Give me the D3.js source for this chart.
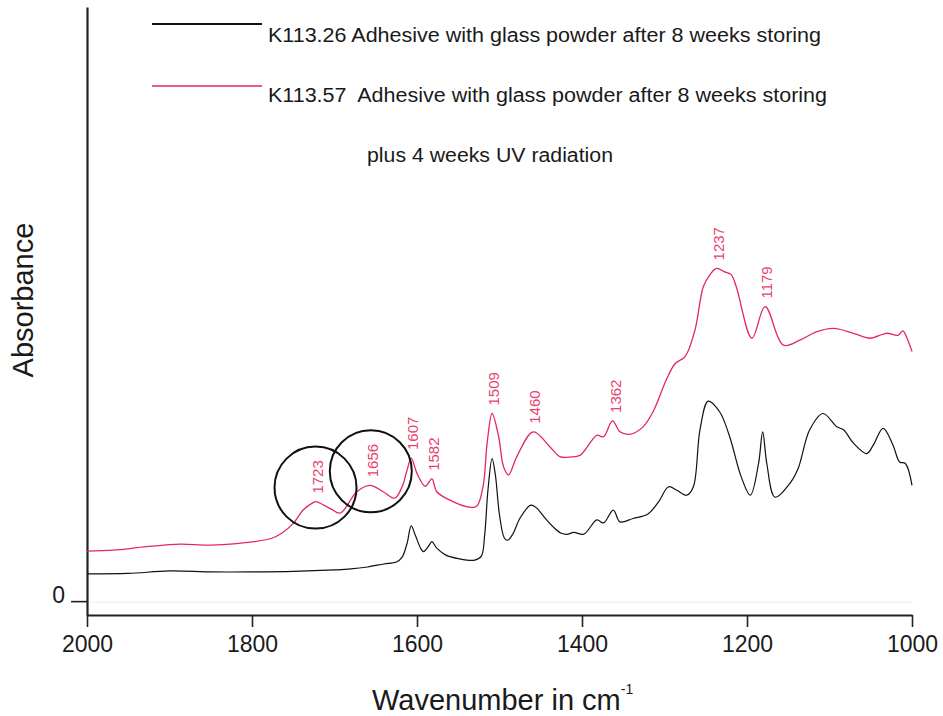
<!DOCTYPE html>
<meta charset="utf-8">
<script src="https://d3js.org/d3.v7.min.js"></script>
<style>
  body { margin: 0; background: #fff; }
  text { font-family: "Liberation Sans", Arial, sans-serif; }
</style>
<div id="chart"></div>
<script>

// --- data (wavenumber in cm-1, absorbance in arbitrary units) ---
var blackWavenumber = [2000, 1950, 1900, 1850, 1800, 1750, 1700, 1680, 1660, 1640, 1625, 1618, 1612, 1607, 1602,
  1595, 1592, 1586, 1582, 1576, 1565, 1550, 1530, 1522, 1518, 1514, 1509, 1505, 1500, 1494, 1490, 1484, 1475,
  1462, 1455, 1445, 1435, 1425, 1418, 1410, 1398, 1382, 1374, 1362, 1354, 1338, 1320, 1307, 1295, 1285, 1273,
  1265, 1257, 1247, 1233, 1221, 1207, 1196, 1186, 1181, 1176, 1166, 1148, 1138, 1124, 1108, 1091, 1083, 1071,
  1055, 1047, 1035, 1023, 1015, 1008, 1000];
var blackAbsorbance = [0.055, 0.056, 0.061, 0.059, 0.059, 0.060, 0.063, 0.065, 0.069, 0.075, 0.079, 0.089, 0.117, 0.152, 0.133,
  0.105, 0.100, 0.111, 0.120, 0.107, 0.093, 0.086, 0.083, 0.091, 0.133, 0.224, 0.288, 0.255, 0.174, 0.127, 0.123, 0.135, 0.168,
  0.194, 0.188, 0.168, 0.150, 0.137, 0.135, 0.139, 0.135, 0.164, 0.158, 0.184, 0.160, 0.167, 0.176, 0.201, 0.231, 0.224, 0.214,
  0.231, 0.346, 0.404, 0.382, 0.332, 0.251, 0.214, 0.278, 0.342, 0.278, 0.210, 0.238, 0.268, 0.346, 0.379, 0.352, 0.346, 0.319,
  0.298, 0.315, 0.349, 0.315, 0.281, 0.278, 0.234];

var redWavenumber = [2000, 1968, 1928, 1887, 1855, 1827, 1798, 1776, 1764, 1750, 1738, 1726, 1723, 1705, 1693,
  1673, 1657, 1641, 1627, 1618, 1612, 1607, 1600, 1590, 1582, 1576, 1560, 1540, 1528, 1520, 1515, 1509, 1501,
  1495, 1489, 1479, 1459, 1439, 1427, 1414, 1402, 1382, 1374, 1363, 1354, 1342, 1326, 1314, 1297, 1287, 1275,
  1263, 1253, 1245, 1237, 1227, 1219, 1213, 1194, 1178, 1156, 1136, 1116, 1095, 1071, 1051, 1031, 1017, 1011,
  1006, 1000];
var redAbsorbance = [0.101, 0.103, 0.110, 0.115, 0.113, 0.115, 0.120, 0.127, 0.137, 0.157, 0.184, 0.199, 0.201, 0.187, 0.178,
  0.221, 0.234, 0.221, 0.208, 0.231, 0.265, 0.289, 0.258, 0.232, 0.247, 0.221, 0.204, 0.191, 0.191, 0.231, 0.319, 0.379, 0.332,
  0.271, 0.255, 0.292, 0.342, 0.312, 0.292, 0.291, 0.295, 0.335, 0.332, 0.364, 0.342, 0.337, 0.352, 0.382, 0.450, 0.480, 0.494,
  0.548, 0.635, 0.659, 0.672, 0.665, 0.659, 0.635, 0.531, 0.595, 0.517, 0.527, 0.544, 0.551, 0.541, 0.531, 0.541, 0.537, 0.546,
  0.531, 0.504];

var peakLabels = [1723, 1656, 1607, 1582, 1509, 1460, 1362, 1237, 1179];
var circledPeaks = [1723, 1656];
var xTicks = [2000, 1800, 1600, 1400, 1200, 1000];
var yTicks = [0];
var legendLabels = [
  "K113.26 Adhesive with glass powder after 8 weeks storing",
  "K113.57  Adhesive with glass powder after 8 weeks storing",
  "plus 4 weeks UV radiation"
];

var black = "#111111", red = "#e3285a", labelRed = "#e8426e";

// --- layout ---
var margin = {top: 7, right: 31, bottom: 101, left: 87},
    width = 943 - margin.left - margin.right,
    height = 716 - margin.top - margin.bottom;

var svgRoot = d3.select("#chart")
  .append("svg")
    .attr("width", 943)
    .attr("height", 716);

var svg = svgRoot.append("g")
    .attr("transform", "translate(" + margin.left + "," + margin.top + ")");

var x = d3.scaleLinear().domain([2000, 1000]).range([0, width]);
var y = d3.scaleLinear().domain([-0.028, 1.2]).range([height, 0]);

// faint zero line
svg.append("line")
  .attr("x1", 0).attr("x2", width)
  .attr("y1", y(0) + 1).attr("y2", y(0) + 1)
  .attr("stroke", "#ececec").attr("stroke-width", 1);

// x axis
var xAxis = svg.append("g")
  .attr("transform", "translate(0," + height + ")")
  .call(d3.axisBottom(x).tickValues(xTicks).tickFormat(d3.format("d"))
    .tickSize(12).tickSizeOuter(0).tickPadding(9));
xAxis.select(".domain").attr("stroke-width", 2.2).attr("stroke", "#222");
xAxis.selectAll(".tick line").attr("stroke-width", 1.6).attr("stroke", "#222");
xAxis.selectAll("text").attr("font-size", 23).attr("fill", "#1a1a1a")
  .attr("font-family", "Liberation Sans, Arial, sans-serif");

// y axis
var yAxis = svg.append("g")
  .call(d3.axisLeft(y).tickValues(yTicks).tickFormat(d3.format("d"))
    .tickSize(16).tickSizeOuter(0).tickPadding(6));
yAxis.select(".domain").attr("stroke-width", 2.2).attr("stroke", "#222");
yAxis.selectAll(".tick line").attr("stroke-width", 1.6).attr("stroke", "#222");
yAxis.selectAll("text").attr("font-size", 23).attr("fill", "#1a1a1a").attr("dy", "0.08em")
  .attr("font-family", "Liberation Sans, Arial, sans-serif");

// axis titles
svgRoot.append("text")
  .attr("transform", "translate(33,300) rotate(-90)")
  .attr("text-anchor", "middle")
  .attr("font-size", 29)
  .attr("fill", "#1a1a1a")
  .text("Absorbance");

var xTitle = svgRoot.append("text")
  .attr("x", 372).attr("y", 710)
  .attr("font-size", 29)
  .attr("fill", "#1a1a1a")
  .text("Wavenumber in cm");
xTitle.append("tspan")
  .attr("font-size", 14)
  .attr("dy", -16)
  .text("-1");

// spectra
function series(wn, ab) {
  return wn.map(function(w, i) { return {wn: w, a: ab[i]}; });
}
var line = d3.line()
  .x(function(d) { return x(d.wn); })
  .y(function(d) { return y(d.a); })
  .curve(d3.curveCatmullRom.alpha(0.5));

svg.append("path")
  .datum(series(blackWavenumber, blackAbsorbance))
  .attr("d", line)
  .attr("fill", "none")
  .attr("stroke", black)
  .attr("stroke-width", 1.2);

var redData = series(redWavenumber, redAbsorbance);
svg.append("path")
  .datum(redData)
  .attr("d", line)
  .attr("fill", "none")
  .attr("stroke", red)
  .attr("stroke-width", 1.3);

// peak height on the red spectrum near a wavenumber
function peakValue(wn) {
  var best = -Infinity;
  redData.forEach(function(d) {
    if (Math.abs(d.wn - wn) <= 8 && d.a > best) best = d.a;
  });
  return best;
}

svg.selectAll(".peak")
  .data(peakLabels)
  .enter().append("text")
    .attr("class", "peak")
    .attr("transform", function(d) {
      return "translate(" + (x(d) + 2) + "," + (y(peakValue(d)) - 8) + ") rotate(-90)";
    })
    .attr("dy", "0.35em")
    .attr("font-size", 15)
    .attr("fill", labelRed)
    .text(function(d) { return d; });

svg.selectAll(".ring")
  .data(circledPeaks)
  .enter().append("circle")
    .attr("class", "ring")
    .attr("cx", function(d) { return x(d); })
    .attr("cy", function(d) { return y(peakValue(d)) - 14; })
    .attr("r", 41)
    .attr("fill", "none")
    .attr("stroke", "#111")
    .attr("stroke-width", 2);

// legend
var legend = svgRoot.append("g");
[black, red].forEach(function(c, i) {
  legend.append("line")
    .attr("x1", 152).attr("x2", 262)
    .attr("y1", 24 + i * 62).attr("y2", 24 + i * 62)
    .attr("stroke", c)
    .attr("stroke-width", i === 0 ? 1.8 : 1.4);
});
var legendPos = [{x: 268, y: 42, w: 553}, {x: 268, y: 102, w: 559}, {x: 367, y: 162, w: 246}];
legend.selectAll("text")
  .data(legendLabels)
  .enter().append("text")
    .attr("x", function(d, i) { return legendPos[i].x; })
    .attr("y", function(d, i) { return legendPos[i].y; })
    .attr("textLength", function(d, i) { return legendPos[i].w; })
    .attr("lengthAdjust", "spacingAndGlyphs")
    .attr("font-size", 20)
    .attr("fill", "#1a1a1a")
    .style("white-space", "pre")
    .text(function(d) { return d; });

</script>
